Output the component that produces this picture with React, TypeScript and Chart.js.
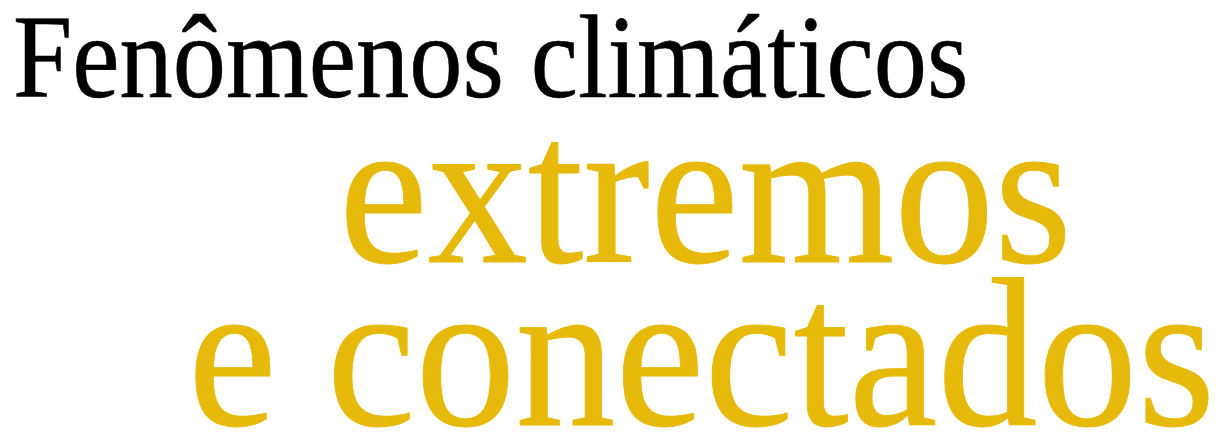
import React, { useEffect, useRef } from "react";
import { Chart, registerables } from "chart.js";

Chart.register(...registerables);

// Text content of the graphic (no numeric series appear in the reference)
const titleLine: string[] = ["Fenômenos climáticos"];
const highlightLines: string[] = ["extremos", "e conectados"];
const categories: string[] = [];
const values: number[] = [];

const GOLD = "#E7B90A";
const FONT = '"Liberation Serif", "Times New Roman", Times, serif';

export default function App() {
  const canvasRef = useRef<HTMLCanvasElement | null>(null);

  useEffect(() => {
    if (!canvasRef.current) return;
    const chart = new Chart(canvasRef.current, {
      type: "bar",
      data: {
        labels: categories,
        datasets: [{ data: values, backgroundColor: GOLD }],
      },
      options: {
        animation: false,
        responsive: false,
        plugins: { legend: { display: false }, tooltip: { enabled: false }, title: { display: false } },
        scales: { x: { display: false }, y: { display: false } },
      },
    });
    return () => chart.destroy();
  }, []);

  const base: React.CSSProperties = {
    position: "absolute",
    margin: 0,
    fontFamily: FONT,
    lineHeight: 1,
    whiteSpace: "nowrap",
    transformOrigin: "left top",
  };

  return (
    <div style={{ position: "absolute", left: 0, top: 0, width: 1222, height: 435, overflow: "hidden", background: "#ffffff" }}>
      <canvas ref={canvasRef} width={1222} height={435} style={{ position: "absolute", left: 0, top: 0 }} />
      <div style={{ ...base, left: 12.5, top: -0.8, fontSize: 118, color: "#000000", transform: "scaleX(0.9025)", WebkitTextStroke: "0.6px #000000" }}>{titleLine[0]}</div>
      <div style={{ ...base, left: 339, top: 86.3, fontSize: 211, color: GOLD, transform: "scaleX(0.948)", WebkitTextStroke: "0.8px " + GOLD }}>{highlightLines[0]}</div>
      <div style={{ ...base, left: 188, top: 249.3, fontSize: 211, color: GOLD, transform: "scaleX(0.948)", WebkitTextStroke: "0.8px " + GOLD }}>{highlightLines[1]}</div>
    </div>
  );
}
